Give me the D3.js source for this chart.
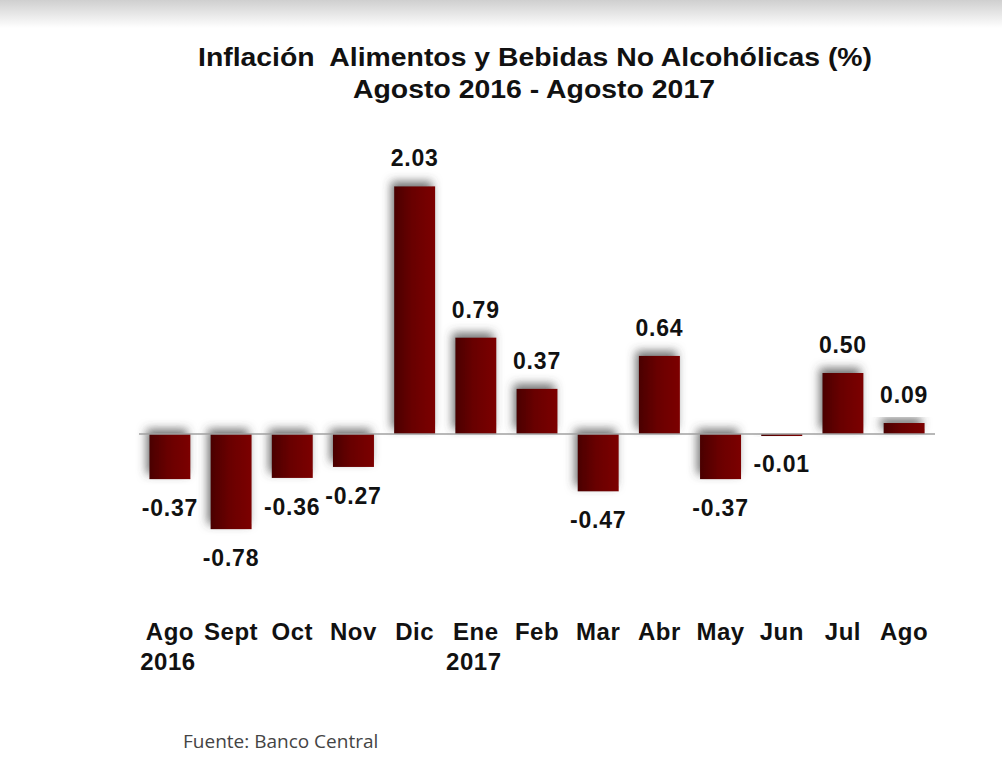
<!DOCTYPE html>
<html>
<head>
<meta charset="utf-8">
<script src="https://cdn.jsdelivr.net/npm/d3@7"></script>
<style>
  html, body { margin: 0; padding: 0; background: #fff; }
  svg { display: block; }
  .title text { white-space: pre; }
</style>
</head>
<body>
<div id="chart"></div>
<script>
/* -----------------------
data
------------------------- */

var months = ['Ago', 'Sept', 'Oct', 'Nov', 'Dic', 'Ene', 'Feb', 'Mar', 'Abr', 'May', 'Jun', 'Jul', 'Ago'];
var years  = ['2016', '', '', '', '', '2017', '', '', '', '', '', '', ''];
var values = [-0.37, -0.78, -0.36, -0.27, 2.03, 0.79, 0.37, -0.47, 0.64, -0.37, -0.01, 0.50, 0.09];

var title1 = 'Inflación  Alimentos y Bebidas No Alcohólicas (%)',
    title2 = 'Agosto 2016 - Agosto 2017',
    source = 'Fuente: Banco Central';

/* -----------------------
main variables
------------------------- */

var width = 1002,
    height = 763;

var zero_y = 434,
    px_per_unit = 122;

var c_line = '#a0a0a0',
    c_text = '#111';

var svg = d3.select('#chart')
  .append('svg')
  .attr('width', width)
  .attr('height', height);

var defs = svg.append('defs');

// top grey band
var topGrad = defs.append('linearGradient')
  .attr('id', 'topgrad')
  .attr('x1', 0).attr('y1', 0).attr('x2', 0).attr('y2', 1);
topGrad.append('stop').attr('offset', '0%').attr('stop-color', '#cfcfcf');
topGrad.append('stop').attr('offset', '100%').attr('stop-color', '#ffffff');

// bar fill, darker on the left
var barGrad = defs.append('linearGradient')
  .attr('id', 'bargrad')
  .attr('x1', 0).attr('y1', 0).attr('x2', 1).attr('y2', 0);
barGrad.append('stop').attr('offset', '0%').attr('stop-color', '#4a0000');
barGrad.append('stop').attr('offset', '45%').attr('stop-color', '#690000');
barGrad.append('stop').attr('offset', '100%').attr('stop-color', '#7c0000');

var shadow = defs.append('filter')
  .attr('id', 'shadow')
  .attr('x', '-50%').attr('y', '-50%')
  .attr('width', '200%').attr('height', '200%');
shadow.append('feDropShadow')
  .attr('dx', -3).attr('dy', -5)
  .attr('stdDeviation', 5)
  .attr('flood-color', '#444')
  .attr('flood-opacity', 0.75);

svg.append('rect')
  .attr('x', 0).attr('y', 0)
  .attr('width', width).attr('height', 28)
  .attr('fill', 'url(#topgrad)');

/* -----------------------
scales
------------------------- */

var x = d3.scaleBand()
  .domain(d3.range(months.length))
  .range([139, 935])
  .paddingInner(0.33)
  .paddingOuter(0.17);

var y = d3.scaleLinear()
  .domain([0, 1])
  .range([zero_y, zero_y - px_per_unit]);

/* -----------------------
title
------------------------- */

var title = svg.append('g')
  .attr('class', 'title')
  .attr('font-family', '"Liberation Sans Narrow", "Arial Narrow", "Liberation Sans", Arial, sans-serif')
  .attr('font-weight', 'bold')
  .attr('font-size', '25px')
  .attr('fill', c_text)
  .attr('text-anchor', 'middle');

title.append('text')
  .attr('x', 535).attr('y', 66)
  .attr('textLength', 674)
  .attr('lengthAdjust', 'spacingAndGlyphs')
  .text(title1);

title.append('text')
  .attr('x', 534).attr('y', 98)
  .attr('textLength', 362)
  .attr('lengthAdjust', 'spacingAndGlyphs')
  .text(title2);

/* -----------------------
bars
------------------------- */

var plot = svg.append('g');

plot.selectAll('.bar')
  .data(values)
  .enter()
  .append('rect')
  .attr('class', 'bar')
  .attr('x', function (d, i) { return x(i); })
  .attr('width', x.bandwidth())
  .attr('y', function (d) { return d >= 0 ? y(d) : y(0); })
  .attr('height', function (d) { return Math.max(Math.abs(y(d) - y(0)), 2); })
  .attr('fill', 'url(#bargrad)')
  .attr('filter', 'url(#shadow)');

// zero line
plot.append('line')
  .attr('x1', x.range()[0])
  .attr('x2', x.range()[1])
  .attr('y1', y(0))
  .attr('y2', y(0))
  .attr('stroke', c_line)
  .attr('stroke-width', 1.5);

// value labels
plot.selectAll('.val')
  .data(values)
  .enter()
  .append('text')
  .attr('class', 'val')
  .attr('x', function (d, i) { return x(i) + x.bandwidth() / 2; })
  .attr('y', function (d) { return d >= 0 ? y(d) - 20 : y(d) + 37; })
  .attr('text-anchor', 'middle')
  .attr('font-family', '"Liberation Sans", Arial, sans-serif')
  .attr('font-weight', 'bold')
  .attr('font-size', '23px')
  .attr('letter-spacing', '0.8px')
  .attr('fill', c_text)
  .text(function (d) { return d.toFixed(2); });

/* -----------------------
x labels
------------------------- */

var xlab = svg.append('g')
  .attr('font-family', '"Liberation Sans", Arial, sans-serif')
  .attr('font-weight', 'bold')
  .attr('font-size', '24px')
  .attr('letter-spacing', '0.5px')
  .attr('fill', c_text)
  .attr('text-anchor', 'middle');

xlab.selectAll('.m')
  .data(months)
  .enter()
  .append('text')
  .attr('class', 'm')
  .attr('x', function (d, i) { return x(i) + x.bandwidth() / 2; })
  .attr('y', 640)
  .text(function (d) { return d; });

xlab.selectAll('.yr')
  .data(years)
  .enter()
  .append('text')
  .attr('class', 'yr')
  .attr('x', function (d, i) { return x(i) + x.bandwidth() / 2 - 2; })
  .attr('y', 670)
  .text(function (d) { return d; });

/* -----------------------
source
------------------------- */

svg.append('text')
  .attr('x', 183).attr('y', 748)
  .attr('font-family', '"Open Sans", "Noto Sans", sans-serif')
  .attr('font-size', '19px')
  .attr('fill', '#444')
  .text(source);
</script>
</body>
</html>
